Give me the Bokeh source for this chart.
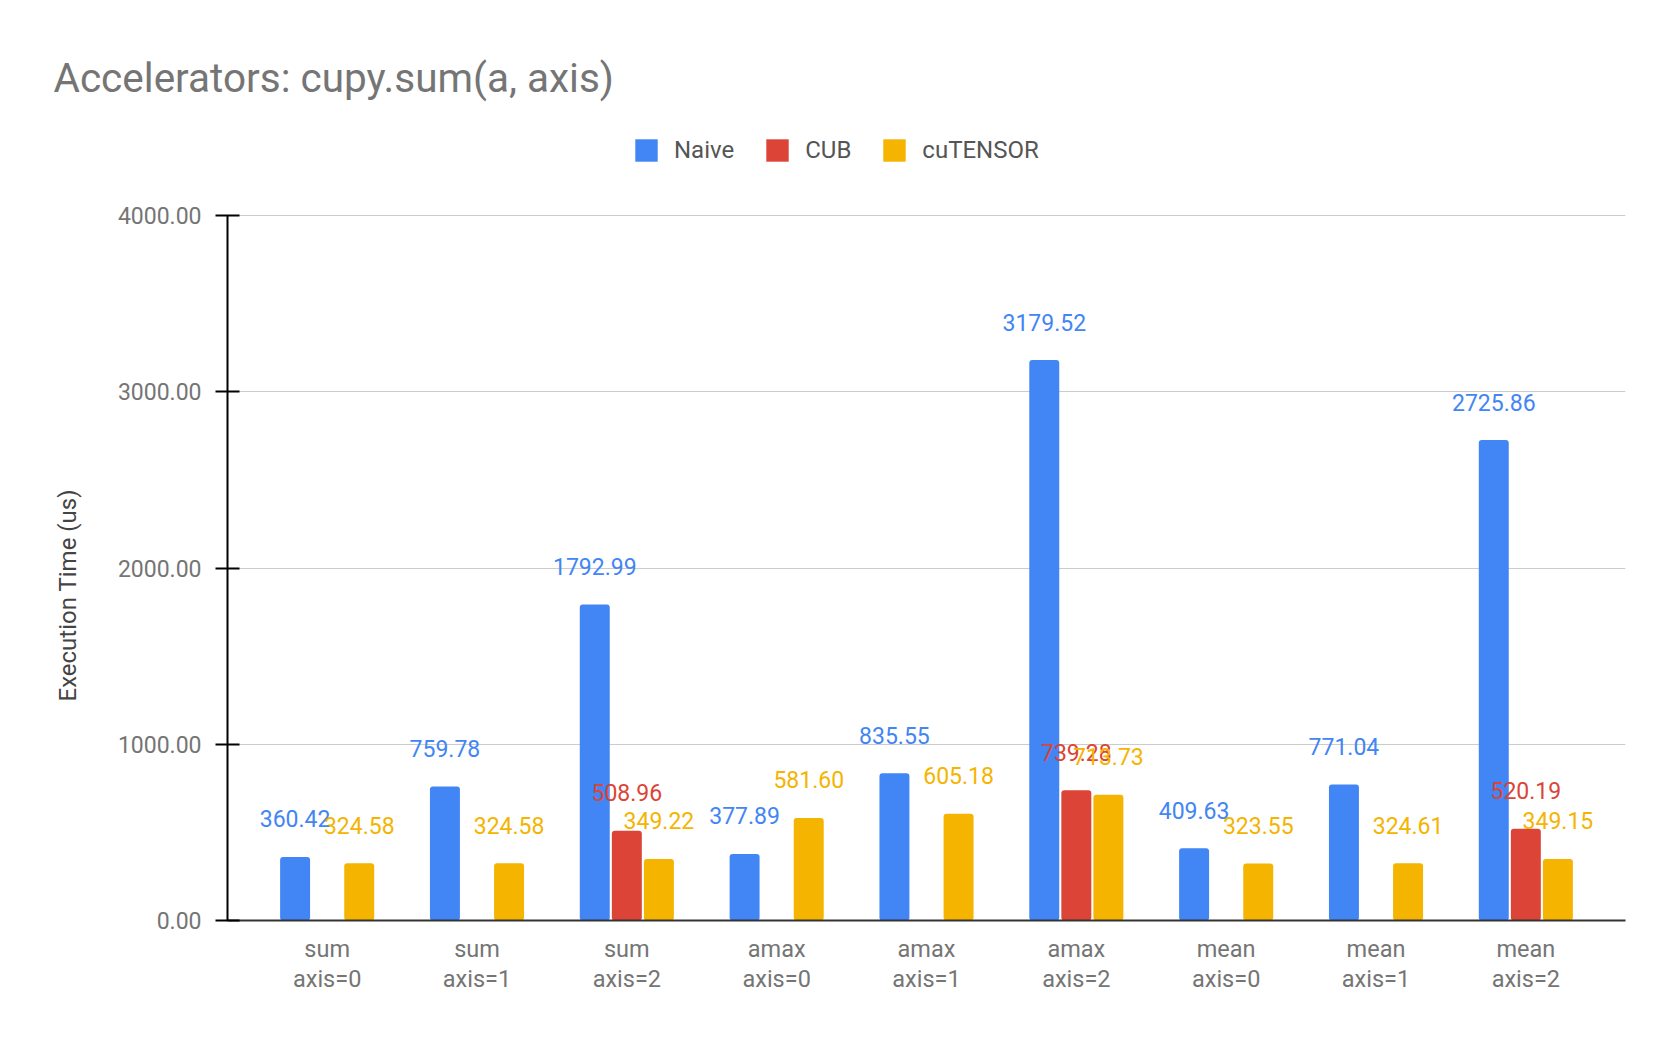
from bokeh.plotting import figure
from bokeh.models import (ColumnDataSource, FactorRange, Range1d, Legend, LegendItem,
                          FixedTicker, NumeralTickFormatter, Title)
from bokeh.transform import dodge
from bokeh.core.properties import value
from bokeh.embed import file_html
from bokeh.resources import INLINE

# ---- data ----
categories = ["sum\naxis=0", "sum\naxis=1", "sum\naxis=2",
              "amax\naxis=0", "amax\naxis=1", "amax\naxis=2",
              "mean\naxis=0", "mean\naxis=1", "mean\naxis=2"]
naive = [360.42, 759.78, 1792.99, 377.89, 835.55, 3179.52, 409.63, 771.04, 2725.86]
cub = [None, None, 508.96, None, None, 739.28, None, None, 520.19]
cutensor = [324.58, 324.58, 349.22, 581.60, 605.18, 713.73, 323.55, 324.61, 349.15]
y_ticks = [0, 1000, 2000, 3000, 4000]
y_axis_max = 4000

series_names = ["Naive", "CUB", "cuTENSOR"]
series_colors = ["#4285F4", "#DB4437", "#F4B400"]
series_offsets = [-0.214, 0.0, 0.214]

FONT = "Roboto"
FRAME_H = 790
AXIS_PX = 705          # pixel height of the 0..4000 axis
y_top = y_axis_max * FRAME_H / AXIS_PX   # headroom above the axis holds the legend

p = figure(x_range=FactorRange(*categories, range_padding=0.0367),
           y_range=Range1d(0, y_top),
           width=1660, height=1018,
           frame_width=1398, frame_height=FRAME_H,
           min_border_left=227, min_border_right=35,
           min_border_top=130, min_border_bottom=98,
           output_backend="svg", toolbar_location=None,
           title="Accelerators: cupy.sum(a, axis)")
p.outline_line_color = None
p.background_fill_color = "white"

# title
p.title.text_font = FONT
p.title.text_font_size = "40.5px"
p.title.text_font_style = "normal"
p.title.text_color = "#757575"
p.title.align = "left"
p.title.offset = -174
p.title.standoff = 58

items = []
series_values = [naive, cub, cutensor]
for name, vals, color, off in zip(series_names, series_values, series_colors, series_offsets):
    cats = [c for c, v in zip(categories, vals) if v is not None]
    vs = [v for v in vals if v is not None]
    src = ColumnDataSource(dict(cat=cats, val=vs, lab=["%.2f" % v for v in vs]))
    r = p.vbar(x=dodge("cat", off, range=p.x_range), top="val", bottom=0, width=0.2,
               source=src, fill_color=color, line_color=None, border_radius=3)
    items.append(LegendItem(label=name, renderers=[r]))
    p.text(x=dodge("cat", off, range=p.x_range), y="val", text="lab", source=src,
           text_color=color, text_font=value(FONT), text_font_size="23px",
           text_align="center", text_baseline="middle", y_offset=-38)

legend = Legend(items=items, orientation="horizontal", location=(405, 756))
legend.border_line_color = None
legend.background_fill_alpha = 0
legend.padding = 0
legend.margin = 0
legend.spacing = 29
legend.glyph_width = 28
legend.glyph_height = 28
legend.label_standoff = 14
legend.label_height = 28
legend.label_text_font = FONT
legend.label_text_font_size = "24px"
legend.label_text_color = "#555555"
legend.label_text_baseline = "middle"
p.add_layout(legend, "center")

# axes
p.xgrid.grid_line_color = None
p.ygrid.grid_line_color = "#cccccc"
p.ygrid.grid_line_width = 1

yax = p.yaxis[0]
yax.ticker = FixedTicker(ticks=y_ticks)
yax.bounds = (0, y_axis_max)
yax.formatter = NumeralTickFormatter(format="0.00")
yax.axis_line_color = "black"
yax.axis_line_width = 2
yax.major_tick_line_color = "black"
yax.major_tick_line_width = 2
yax.major_tick_in = 12
yax.major_tick_out = 12
yax.minor_tick_line_color = None
yax.major_label_text_font = FONT
yax.major_label_text_font_size = "23px"
yax.major_label_text_color = "#757575"
yax.major_label_standoff = 14

# y axis title, placed alongside the 0..4000 span of the axis
ytitle = Title(text="Execution Time (us)", align="left", offset=219, standoff=66,
               text_font=FONT, text_font_size="24px", text_font_style="normal",
               text_color="#444444")
p.add_layout(ytitle, "left")

xax = p.xaxis[0]
xax.axis_line_color = "#333333"
xax.axis_line_width = 2
xax.major_tick_line_color = None
xax.minor_tick_line_color = None
xax.major_label_text_font = FONT
xax.major_label_text_font_size = "23.5px"
xax.major_label_text_color = "#757575"
xax.major_label_text_line_height = 1.1
xax.major_label_standoff = 8
xax.major_label_orientation = "horizontal"

open("out.html", "w").write(file_html(p, INLINE))
